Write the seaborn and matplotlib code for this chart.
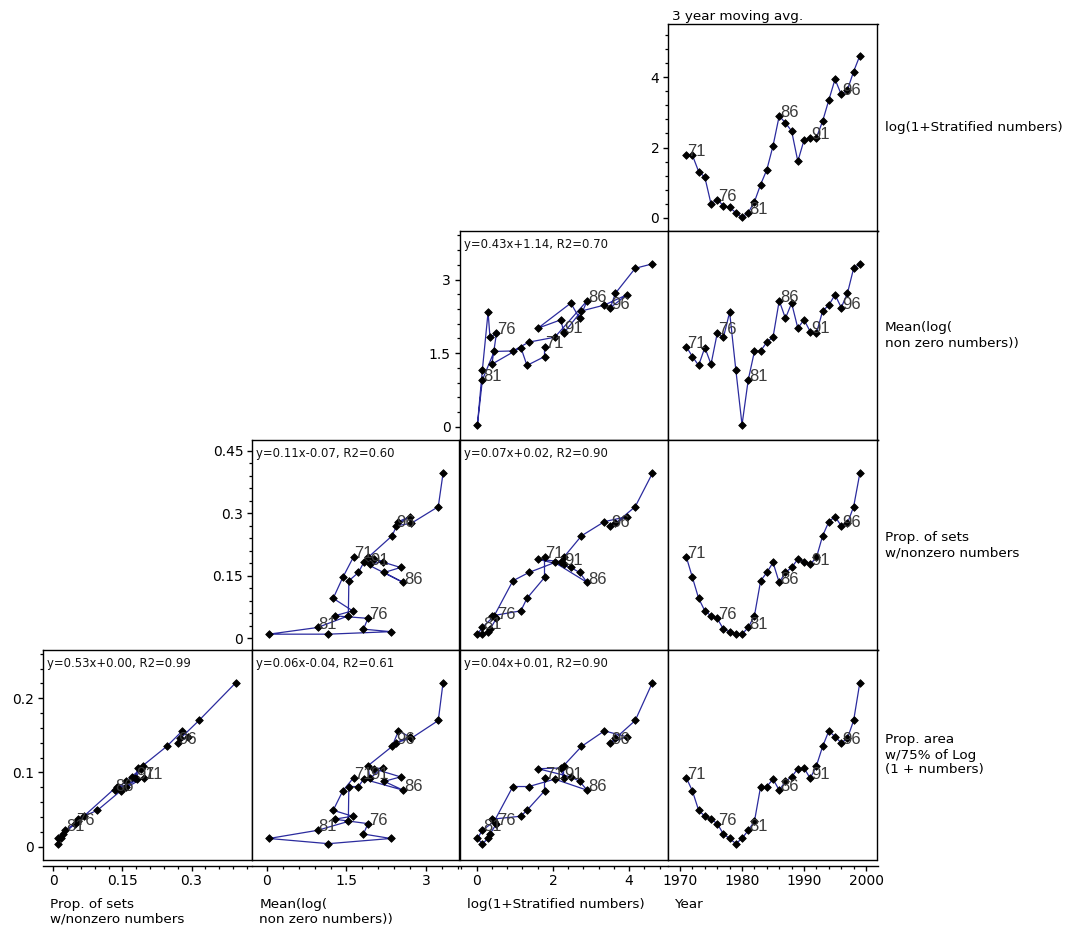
import numpy as np
import pandas as pd
import matplotlib
matplotlib.use("Agg")
import matplotlib.pyplot as plt
from matplotlib.ticker import MultipleLocator, FixedLocator, FixedFormatter
import seaborn as sns

# ---------------- data ----------------
years = list(range(1971, 2000))
log_strat = [1.78, 1.78, 1.32, 1.16, 0.40, 0.52, 0.35, 0.30, 0.15, 0.02,
             0.15, 0.46, 0.95, 1.37, 2.05, 2.90, 2.70, 2.47, 1.61, 2.21,
             2.28, 2.28, 2.75, 3.35, 3.94, 3.51, 3.64, 4.16, 4.61]
mean_log = [1.635, 1.43, 1.25, 1.615, 1.275, 1.905, 1.82, 2.335, 1.16, 0.04,
            0.955, 1.535, 1.545, 1.725, 1.825, 2.57, 2.21, 2.52, 2.01, 2.18,
            1.94, 1.905, 2.36, 2.48, 2.69, 2.43, 2.72, 3.23, 3.32]
prop_sets = [0.196, 0.146, 0.096, 0.066, 0.054, 0.048, 0.022, 0.016, 0.010, 0.010,
             0.026, 0.054, 0.138, 0.158, 0.182, 0.134, 0.158, 0.170, 0.190, 0.184,
             0.178, 0.194, 0.246, 0.280, 0.292, 0.270, 0.276, 0.316, 0.396]
prop_area = [0.093, 0.075, 0.049, 0.041, 0.037, 0.031, 0.017, 0.011, 0.004, 0.011,
             0.022, 0.034, 0.081, 0.081, 0.091, 0.076, 0.088, 0.094, 0.105, 0.106,
             0.092, 0.109, 0.135, 0.156, 0.148, 0.140, 0.146, 0.170, 0.221]
label_years = [1971, 1976, 1981, 1986, 1991, 1996]

var_names = {
    "A": "log(1+Stratified numbers)",
    "M": "Mean(log(\nnon zero numbers))",
    "P": "Prop. of sets\nw/nonzero numbers",
    "Q": "Prop. area\nw/75% of Log\n(1 + numbers)",
    "Y": "Year",
}
equations = {
    (1, 2): "y=0.43x+1.14, R2=0.70",
    (2, 1): "y=0.11x-0.07, R2=0.60",
    (2, 2): "y=0.07x+0.02, R2=0.90",
    (3, 0): "y=0.53x+0.00, R2=0.99",
    (3, 1): "y=0.06x-0.04, R2=0.61",
    (3, 2): "y=0.04x+0.01, R2=0.90",
}

df = pd.DataFrame({"Y": years, "A": log_strat, "M": mean_log,
                   "P": prop_sets, "Q": prop_area})

xlims = {"P": (-0.022, 0.431), "M": (-0.28, 3.63), "A": (-0.45, 5.02),
         "Y": (1968.06, 2001.85)}
ylims = {"A": (-0.37, 5.51), "M": (-0.27, 3.99), "P": (-0.028, 0.476),
         "Q": (-0.018, 0.265)}
majors = {"A": ([0, 2, 4], ["0", "2", "4"], 0.4),
          "M": ([0, 1.5, 3], ["0", "1.5", "3"], 0.3),
          "P": ([0, 0.15, 0.3, 0.45], ["0", "0.15", "0.3", "0.45"], 0.03),
          "Q": ([0, 0.1, 0.2], ["0", "0.1", "0.2"], 0.02),
          "Y": ([1970, 1980, 1990, 2000], ["1970", "1980", "1990", "2000"], 2)}

# ---------------- figure ----------------
sns.set_theme(style="white")
plt.rcParams["font.family"] = ["DejaVu Sans"]
plt.rcParams["axes.edgecolor"] = "black"
plt.rcParams["axes.linewidth"] = 1.0

W, H = 1068, 935
fig = plt.figure(figsize=(W / 100, H / 100), dpi=100)
fig.patch.set_facecolor("white")

col_edges = [43, 252, 459.5, 668, 877.5]
row_edges = [24, 231, 440, 650, 860]
col_vars = ["P", "M", "A", "Y"]
row_vars = ["A", "M", "P", "Q"]

line_color = "#2b2b9e"
LAB = 9.7
TICK = 10

def make_ax(r, c):
    x0, x1 = col_edges[c], col_edges[c + 1]
    y0, y1 = row_edges[r], row_edges[r + 1]
    return fig.add_axes([x0 / W, 1 - y1 / H, (x1 - x0) / W, (y1 - y0) / H])

for r in range(4):
    first_col = 3 - r
    for c in range(first_col, 4):
        ax = make_ax(r, c)
        xv, yv = col_vars[c], row_vars[r]
        sns.lineplot(data=df, x=xv, y=yv, sort=False, estimator=None,
                     color=line_color, linewidth=0.9, ax=ax)
        sns.scatterplot(data=df, x=xv, y=yv, color="black", marker="D",
                        s=15, edgecolor="black", linewidth=0.6, zorder=3, ax=ax)
        for ly in label_years:
            row = df[df["Y"] == ly].iloc[0]
            ax.annotate(str(ly % 100), (row[xv], row[yv]), xytext=(0.5, 2.5),
                        textcoords="offset points", ha="left", va="center",
                        fontsize=12, color="#3a3a3a", zorder=4,
                        family="Liberation Sans")
        ax.set_xlim(*xlims[xv])
        ax.set_ylim(*ylims[yv])
        ax.set_xlabel("")
        ax.set_ylabel("")
        for s in ax.spines.values():
            s.set_visible(True)
            s.set_color("black")
            s.set_linewidth(1.0)
        ax.tick_params(which="both", direction="out", color="black",
                       labelcolor="black", labelsize=TICK, pad=2.5)
        ax.tick_params(which="major", length=3.8, width=1)
        ax.tick_params(which="minor", length=2.2, width=0.9)
        if c == first_col:
            t, lab, mstep = majors[yv]
            ax.yaxis.set_major_locator(FixedLocator(t))
            ax.yaxis.set_major_formatter(FixedFormatter(lab))
            ax.yaxis.set_minor_locator(MultipleLocator(mstep))
            ax.tick_params(axis="y", which="both", left=True, labelleft=True)
        else:
            ax.tick_params(axis="y", which="both", left=False, labelleft=False)
        if r == 3:
            t, lab, mstep = majors[xv]
            ax.xaxis.set_major_locator(FixedLocator(t))
            ax.xaxis.set_major_formatter(FixedFormatter(lab))
            ax.xaxis.set_minor_locator(MultipleLocator(mstep))
            ax.tick_params(axis="x", which="both", bottom=True, labelbottom=True)
            ax.spines["bottom"].set_position(("outward", 4))
            ax.plot([0, 1], [0, 0], transform=ax.transAxes, color="black",
                    lw=1.0, clip_on=False, zorder=5)
        else:
            ax.tick_params(axis="x", which="both", bottom=False, labelbottom=False)
        if (r, c) in equations:
            ax.text(0.02, 0.965, equations[(r, c)], transform=ax.transAxes,
                    ha="left", va="top", fontsize=8.4, color="#111111")
        if c == 3:
            ax.text(1.035, 0.5, var_names[yv], transform=ax.transAxes,
                    ha="left", va="center", fontsize=LAB, color="black",
                    linespacing=1.2)
        if r == 3:
            ax.text(0.035, -0.18, var_names[xv], transform=ax.transAxes,
                    ha="left", va="top", fontsize=LAB, color="black",
                    linespacing=1.2)
        if r == 0:
            ax.text(0.02, 1.005, "3 year moving avg.", transform=ax.transAxes,
                    ha="left", va="bottom", fontsize=LAB, color="black")

fig.savefig("out.png", dpi=100, facecolor="white")
